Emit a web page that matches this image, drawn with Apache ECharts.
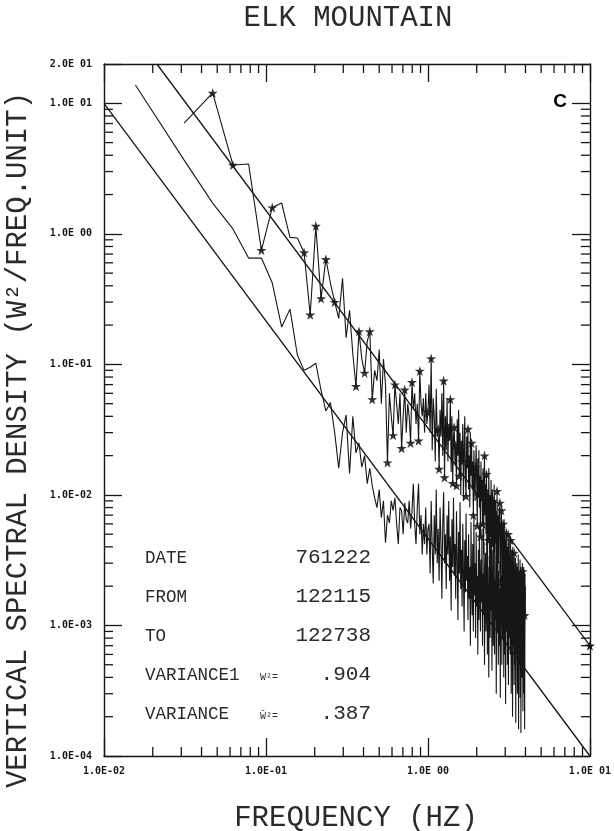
<!DOCTYPE html>
<html>
<head>
<meta charset="utf-8">
<script src="https://cdn.jsdelivr.net/npm/echarts@6/dist/echarts.min.js"></script>
<style>
  html, body { margin: 0; padding: 0; background: #fff; }
  #chart { width: 614px; height: 831px; }
</style>
</head>
<body>
<div id="chart"></div>
<script>
// Spectral estimates are given on bins of 1/64 Hz.
const binWidthHz = 1 / 64;

// Upper spectrum (marked with stars), first bin = 2
const upperFirstBin = 2;
const upperDensity = [
  7.06, 12.0, 3.37, 3.43, 0.75, 1.59, 1.72, 0.94, 0.93, 0.72,
  0.24, 1.15, 0.32, 0.64, 0.42, 0.30, 0.225, 0.456,
  0.16, 0.26, 0.12, 0.068, 0.179, 0.11, 0.086, 0.15, 0.179, 0.054,
  0.09, 0.075, 0.13, 0.05, 0.11, 0.07, 0.0177, 0.06, 0.04, 0.0286,
  0.070, 0.05, 0.035, 0.06, 0.0228, 0.04, 0.064, 0.03, 0.05, 0.04,
  0.025, 0.073, 0.045, 0.06, 0.035, 0.05, 0.026, 0.089, 0.05, 0.04,
  0.055, 0.03, 0.06, 0.035, 0.043,
  0.07, 0.03, 0.111, 0.022, 0.055, 0.04, 0.018, 0.065, 0.028, 0.032,
  0.0158, 0.045, 0.028, 0.06, 0.02, 0.075, 0.0136, 0.04, 0.022, 0.055,
  0.018, 0.035, 0.026, 0.054, 0.015, 0.04, 0.0123, 0.028, 0.033, 0.017,
  0.024, 0.0118, 0.038, 0.02, 0.045, 0.014, 0.03, 0.01, 0.026, 0.018,
  0.035, 0.009, 0.022, 0.04, 0.013, 0.0098, 0.028, 0.016, 0.032, 0.011,
  0.02, 0.008, 0.03, 0.014, 0.025, 0.011, 0.018, 0.007, 0.022, 0.013,
  0.009, 0.0163, 0.024, 0.012, 0.0058, 0.019, 0.01, 0.022, 0.008, 0.014,
  0.0048, 0.018, 0.009, 0.013, 0.006, 0.016, 0.0035, 0.011, 0.02, 0.007,
  0.012, 0.005, 0.0144, 0.008, 0.0015, 0.011, 0.0045, 0.016, 0.007, 0.003,
  0.01, 0.005, 0.013, 0.0025, 0.008, 0.011, 0.004, 0.009, 0.0022, 0.012,
  0.006, 0.0035, 0.009, 0.0045, 0.0075, 0.002, 0.0107, 0.0022, 0.007, 0.0045,
  0.003, 0.008, 0.005, 0.0087, 0.0025, 0.006, 0.0018, 0.0076, 0.004, 0.0055,
  0.0022, 0.006, 0.0035, 0.0015, 0.0065, 0.003, 0.005, 0.0012, 0.0045, 0.0028,
  0.0055, 0.0018, 0.004, 0.0025, 0.0012, 0.005, 0.003, 0.0016, 0.0042, 0.0022,
  0.0035, 0.0014, 0.0045, 0.002, 0.003, 0.0011, 0.0038, 0.0017, 0.0025, 0.004,
  0.0013, 0.003, 0.0021, 0.0036, 0.001, 0.0027, 0.0016, 0.0033, 0.0012, 0.0024,
  0.0019, 0.003, 0.0011, 0.00083, 0.0028, 0.0015, 0.0035, 0.0012, 0.0022, 0.0009,
  0.0026, 0.0014, 0.0032, 0.0009, 0.002, 0.0028, 0.0011, 0.0024, 0.0008, 0.0018,
  0.003, 0.0026, 0.0013, 0.0022, 0.0009, 0.0028, 0.0015, 0.002, 0.0012, 0.0025,
  0.0016, 0.002
];

// Bins of the upper spectrum that carry a star marker
const starredBins = [
  3, 4, 6, 7, 11, 12, 13, 14, 15, 17, 23, 24, 26, 28, 29, 36, 39, 40,
  44, 46, 50, 51, 56, 57, 64, 67, 74, 75, 80, 81, 88, 91, 93, 95, 96,
  100, 104, 110, 113, 119, 122, 126, 129, 131, 135, 139, 143, 147, 149,
  151, 156, 162, 168, 171, 172, 178, 182, 186, 192, 200, 207, 213, 218,
  228, 236, 241, 246, 253
];

// Lower spectrum (plain line), first bin = 1
const lowerFirstBin = 1;
const lowerDensity = [
  13.8, 3.67, 1.72, 1.09, 0.652, 0.652, 0.42, 0.193, 0.265, 0.118,
  0.090, 0.095, 0.102, 0.0635,
  0.044, 0.051, 0.03, 0.016, 0.03, 0.041, 0.0146, 0.040, 0.021, 0.025,
  0.0163, 0.02, 0.0122, 0.016, 0.0118, 0.0095, 0.008, 0.011, 0.0067, 0.009,
  0.0043, 0.007, 0.0061, 0.009, 0.0076, 0.0095, 0.006, 0.0042, 0.008, 0.0076,
  0.005, 0.0087, 0.0065, 0.0061, 0.009, 0.0055, 0.0075, 0.0122, 0.006, 0.0042,
  0.008, 0.0122, 0.005, 0.007, 0.0035, 0.006, 0.0042, 0.008, 0.0035, 0.0055,
  0.006, 0.0025, 0.009, 0.004, 0.0021, 0.007, 0.0035, 0.011, 0.003, 0.0055,
  0.0022, 0.008, 0.0045, 0.0016, 0.006, 0.0105, 0.003, 0.005, 0.0019, 0.007,
  0.0035, 0.009, 0.0022, 0.0048, 0.0013, 0.0065, 0.0028, 0.0095, 0.0024, 0.0042,
  0.0016, 0.0075, 0.0033, 0.0011, 0.0052, 0.0025, 0.0088, 0.0019, 0.0038, 0.0014,
  0.006, 0.0026, 0.0009, 0.0045, 0.0018, 0.0072, 0.0022, 0.0034, 0.0011, 0.005,
  0.0016, 0.0028, 0.0007, 0.0062, 0.0021, 0.0012, 0.0042, 0.0009, 0.0068, 0.0017,
  0.003, 0.0008, 0.0052, 0.0014, 0.0024, 0.0006, 0.0038, 0.0011, 0.0058, 0.0019,
  0.0009, 0.0032, 0.0015, 0.0055, 0.0007, 0.0025, 0.0012, 0.0044, 0.0005, 0.0021,
  0.0036, 0.0009, 0.0016, 0.0052, 0.0006, 0.0028, 0.0011, 0.0004, 0.0034, 0.0018,
  0.0008, 0.0046, 0.0013, 0.0026, 0.00045, 0.0019, 0.0038, 0.0007, 0.0015, 0.0048,
  0.0006, 0.0022, 0.0011, 0.0035, 0.0003, 0.0017, 0.0042, 0.0009, 0.0026, 0.0005,
  0.0014, 0.0031, 0.0007, 0.0019, 0.00028, 0.0038, 0.001, 0.0024, 0.0005, 0.0016,
  0.0033, 0.0008, 0.0021, 0.0004, 0.0013, 0.0036, 0.0006, 0.0018, 0.00025, 0.0028,
  0.0009, 0.0017, 0.0032, 0.0005, 0.0022, 0.0011, 0.00035, 0.0026, 0.0008, 0.0015,
  0.003, 0.0006, 0.0012, 0.0021, 0.0003, 0.0017, 0.0009, 0.0027, 0.0002, 0.0013,
  0.0007, 0.0024, 0.0011, 0.00035, 0.0019, 0.0005, 0.0028, 0.0009, 0.00018, 0.0015,
  0.0022, 0.0006, 0.0013, 0.0003, 0.0025, 0.0008, 0.0017, 0.00016, 0.001, 0.002,
  0.0005, 0.0015, 0.00028, 0.0023, 0.0009, 0.00015, 0.0018, 0.0007, 0.0012, 0.0004,
  0.0021, 0.0008, 0.00022, 0.0014, 0.0006, 0.0024, 0.0003, 0.0011, 0.00016, 0.0009,
  0.0018, 0.0012
];

// -5/3 reference slopes (end points: frequency Hz, density)
const slopeLineLow = [[0.01, 10], [10, 1e-4]];
const slopeLineHigh = [[0.0212, 20], [10, 7e-4]];

// Axis ranges and tick mantissas
const freqRange = [0.01, 10];
const densityRange = [1e-4, 20];
const tickMantissas = [2, 3, 4, 5, 6, 7, 8, 9];
const freqDecades = [0.01, 0.1, 1];
const densityDecades = [1e-4, 1e-3, 1e-2, 1e-1, 1];

// Text block printed inside the plot
const infoRows = [
  { label: 'DATE', unit: '', value: '761222' },
  { label: 'FROM', unit: '', value: '122115' },
  { label: 'TO', unit: '', value: '122738' },
  { label: 'VARIANCE1', unit: 'W²=', value: '.904' },
  { label: 'VARIANCE', unit: 'W̄²=', value: '.387' }
];

const INK = '#161616';
const TEXT_INK = '#2a2a2a';
const MONO = "'Liberation Mono', 'DejaVu Sans Mono', monospace";
const LABEL_MONO = "'DejaVu Sans Mono', monospace";

function toPoints(values, firstBin) {
  return values.map((v, i) => [(firstBin + i) * binWidthHz, v]);
}

function sciLabel(v) {
  let e = Math.floor(Math.log10(v) + 1e-9);
  let m = v / Math.pow(10, e);
  if (m >= 9.95) { m /= 10; e += 1; }
  const ee = String(Math.abs(e)).padStart(2, '0');
  return m.toFixed(1) + 'E' + (e < 0 ? '-' : ' ') + ee;
}

const upperPoints = toPoints(upperDensity, upperFirstBin);
const lowerPoints = toPoints(lowerDensity, lowerFirstBin);
const starPoints = starredBins.map(b => upperPoints[b - upperFirstBin]).filter(Boolean);

const minorFreqTicks = [];
freqDecades.forEach(d => tickMantissas.forEach(m => minorFreqTicks.push(m * d)));
const minorDensityTicks = [];
densityDecades.forEach(d => tickMantissas.forEach(m => minorDensityTicks.push(m * d)));

const STAR = 'path://M50,0 L61,35 L98,35 L68,57 L79,91 L50,70 L21,91 L32,57 L2,35 L39,35 Z';
const MINOR_LEN = 9;

const chart = echarts.init(document.getElementById('chart'), null, { renderer: 'canvas' });

const axisCommon = {
  type: 'log',
  logBase: 10,
  axisLine: { show: true, onZero: false, lineStyle: { color: INK, width: 1.4 } },
  axisTick: { show: true, inside: true, length: 18, lineStyle: { color: INK, width: 1.3 } },
  splitLine: { show: false },
  minorTick: { show: false }
};

function textEl(x, y, text, font, align) {
  return {
    type: 'text', x: x, y: y,
    style: {
      text: text, font: font, fill: TEXT_INK,
      align: align || 'left', textAlign: align || 'left',
      verticalAlign: 'middle', textVerticalAlign: 'middle'
    }
  };
}

const textEls = [];
infoRows.forEach((r, i) => {
  const y = 557 + i * 39;
  textEls.push(textEl(145, y + 1, r.label, `17.5px ${MONO}`));
  if (r.unit) textEls.push(textEl(260, y + 3, r.unit, `10px ${MONO}`));
  textEls.push(textEl(371, y, r.value, `21px ${MONO}`, 'right'));
});

const option = {
  backgroundColor: '#fff',
  animation: false,
  grid: { left: 104, right: 12, top: 64, bottom: 75, containLabel: false },
  xAxis: [
    Object.assign({}, axisCommon, {
      position: 'bottom',
      min: freqRange[0], max: freqRange[1],
      axisLabel: {
        show: true, margin: 10, color: INK,
        fontFamily: LABEL_MONO, fontSize: 10, fontWeight: 'bold',
        formatter: sciLabel, showMinLabel: true, showMaxLabel: true
      }
    }),
    Object.assign({}, axisCommon, {
      position: 'top',
      min: freqRange[0], max: freqRange[1],
      axisLabel: { show: false }
    })
  ],
  yAxis: [
    Object.assign({}, axisCommon, {
      position: 'left',
      min: densityRange[0], max: densityRange[1],
      axisLabel: {
        show: true, margin: 12, color: INK,
        fontFamily: LABEL_MONO, fontSize: 10, fontWeight: 'bold',
        formatter: sciLabel, showMinLabel: true, showMaxLabel: true
      }
    }),
    Object.assign({}, axisCommon, {
      position: 'right',
      min: densityRange[0], max: densityRange[1],
      axisLabel: { show: false }
    })
  ],
  graphic: [
    textEl(348, 18, 'ELK MOUNTAIN', `29px ${MONO}`, 'center'),
    textEl(356, 818, 'FREQUENCY (HZ)', `29px ${MONO}`, 'center'),
    Object.assign(textEl(18, 440, 'VERTICAL SPECTRAL DENSITY (W²/FREQ.UNIT)', `29px ${MONO}`, 'center'),
      { rotation: Math.PI / 2 }),
    {
      type: 'text', x: 560, y: 102,
      style: {
        text: 'C', font: `bold 19px 'Liberation Sans', Arial, sans-serif`, fill: '#000',
        align: 'center', textAlign: 'center', verticalAlign: 'middle', textVerticalAlign: 'middle'
      }
    }
  ].concat(textEls),
  series: [
    {
      name: 'minor frequency ticks', type: 'custom', silent: true, z: 5,
      xAxisIndex: 0, yAxisIndex: 0,
      data: minorFreqTicks.map(v => [v, densityRange[0]]),
      encode: { x: 0, y: 1 },
      clip: false,
      renderItem: function (params, api) {
        const v = api.value(0);
        const b = api.coord([v, densityRange[0]]);
        const t = api.coord([v, densityRange[1]]);
        const st = { stroke: INK, lineWidth: 1.3 };
        return {
          type: 'group', children: [
            { type: 'line', shape: { x1: b[0], y1: b[1], x2: b[0], y2: b[1] - MINOR_LEN }, style: st },
            { type: 'line', shape: { x1: t[0], y1: t[1], x2: t[0], y2: t[1] + MINOR_LEN }, style: st }
          ]
        };
      }
    },
    {
      name: 'minor density ticks', type: 'custom', silent: true, z: 5,
      xAxisIndex: 0, yAxisIndex: 0,
      data: minorDensityTicks.map(v => [freqRange[0], v]),
      encode: { x: 0, y: 1 },
      clip: false,
      renderItem: function (params, api) {
        const v = api.value(1);
        const l = api.coord([freqRange[0], v]);
        const r = api.coord([freqRange[1], v]);
        const st = { stroke: INK, lineWidth: 1.3 };
        return {
          type: 'group', children: [
            { type: 'line', shape: { x1: l[0], y1: l[1], x2: l[0] + MINOR_LEN, y2: l[1] }, style: st },
            { type: 'line', shape: { x1: r[0], y1: r[1], x2: r[0] - MINOR_LEN, y2: r[1] }, style: st }
          ]
        };
      }
    },
    {
      name: 'slope low', type: 'line', data: slopeLineLow,
      showSymbol: false, symbol: 'none',
      lineStyle: { color: INK, width: 1.3 }, silent: true
    },
    {
      name: 'slope high', type: 'line',
      data: [
        { value: slopeLineHigh[0], symbol: 'none' },
        { value: slopeLineHigh[1], symbol: STAR, symbolSize: 10 }
      ],
      showSymbol: true, symbolSize: 10,
      itemStyle: { color: INK },
      lineStyle: { color: INK, width: 1.3 }, silent: true, clip: false
    },
    {
      name: 'lower spectrum', type: 'line', data: lowerPoints,
      showSymbol: false, symbol: 'none',
      lineStyle: { color: INK, width: 1.1 }, silent: true
    },
    {
      name: 'upper spectrum', type: 'line', data: upperPoints,
      showSymbol: false, symbol: 'none',
      lineStyle: { color: INK, width: 1.1 }, silent: true
    },
    {
      name: 'upper spectrum stars', type: 'scatter', data: starPoints,
      symbol: STAR, symbolSize: 10,
      itemStyle: { color: '#000' }, silent: true
    }
  ]
};

chart.setOption(option);
</script>
</body>
</html>
